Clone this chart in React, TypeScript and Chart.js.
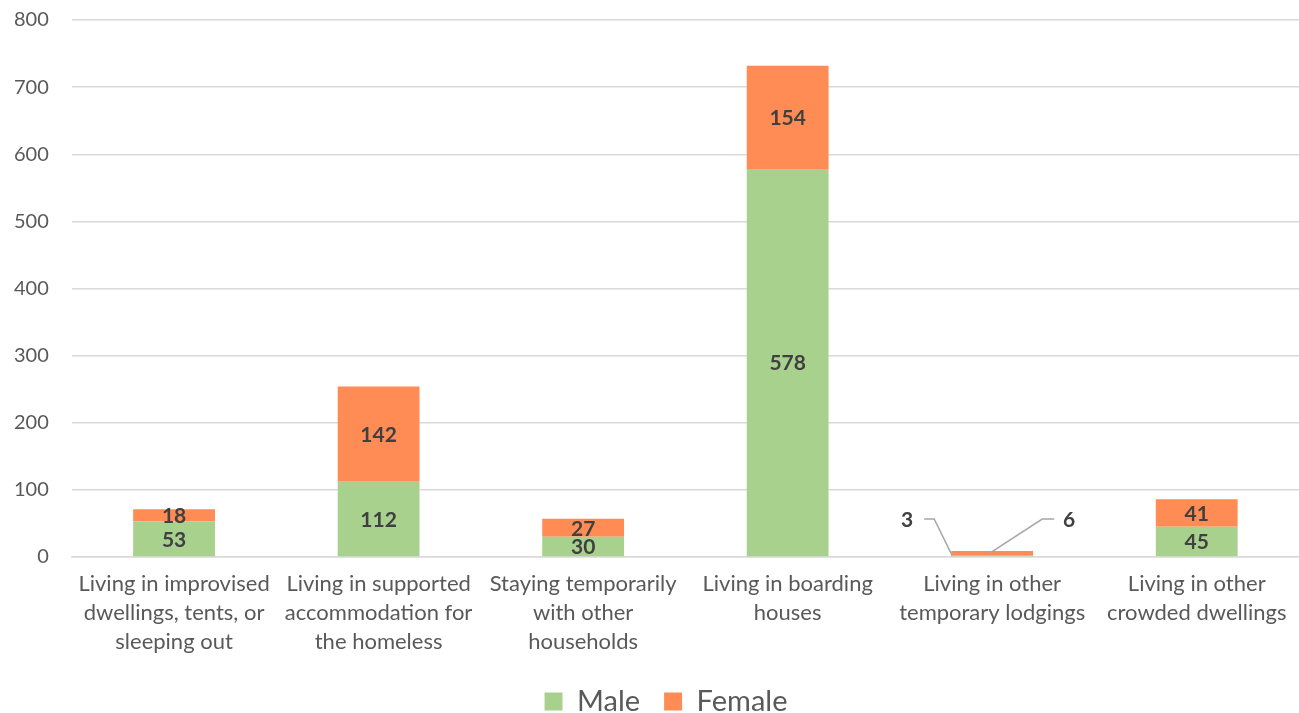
import React, { useEffect, useRef } from "react";
import { Chart, registerables } from "chart.js";

Chart.register(...registerables);

const categories: string[][] = [
  ["Living in improvised", "dwellings, tents, or", "sleeping out"],
  ["Living in supported", "accommodation for", "the homeless"],
  ["Staying temporarily", "with other", "households"],
  ["Living in boarding", "houses"],
  ["Living in other", "temporary lodgings"],
  ["Living in other", "crowded dwellings"],
];
const maleValues = [53, 112, 30, 578, 3, 45];
const femaleValues = [18, 142, 27, 154, 6, 41];
const calloutIndices = [4];

const valueLabelPlugin = {
  id: "valueLabels",
  afterDatasetsDraw(chart: any) {
    const ctx = chart.ctx;
    ctx.save();
    ctx.font = "bold 21px Lato";
    ctx.fillStyle = "#404040";
    ctx.textAlign = "center";
    ctx.textBaseline = "middle";
    chart.data.datasets.forEach((ds: any, di: number) => {
      const meta = chart.getDatasetMeta(di);
      meta.data.forEach((el: any, i: number) => {
        const v = ds.data[i];
        const midY = (el.y + el.base) / 2;
        if (calloutIndices.includes(i)) {
          const base = chart.scales.y.getPixelForValue(0);
          const ly = base - 38;
          ctx.strokeStyle = "#a6a6a6";
          ctx.lineWidth = 1.5;
          ctx.beginPath();
          if (di === 0) {
            ctx.moveTo(el.x - 68, ly);
            ctx.lineTo(el.x - 58, ly);
            ctx.lineTo(el.x - 40, midY);
            ctx.stroke();
            ctx.fillText(String(v), el.x - 85, ly + 1);
          } else {
            ctx.moveTo(el.x + 62, ly);
            ctx.lineTo(el.x + 50, ly);
            ctx.lineTo(el.x - 2, midY);
            ctx.stroke();
            ctx.fillText(String(v), el.x + 77, ly + 1);
          }
        } else {
          ctx.fillText(String(v), el.x, midY + 1);
        }
      });
    });
    ctx.restore();
  },
};

const legendShiftPlugin = {
  id: "legendShift",
  afterLayout(chart: any) {
    if (chart.legend) {
      chart.legend.left += 21;
      chart.legend.right += 21;
    }
  },
};

export default function App() {
  const ref = useRef<HTMLCanvasElement>(null);
  useEffect(() => {
    const chart = new Chart(ref.current!, {
      type: "bar",
      data: {
        labels: categories,
        datasets: [
          {
            label: "Male",
            data: maleValues,
            backgroundColor: "#A9D18E",
            barPercentage: 0.8,
            categoryPercentage: 0.5,
          },
          {
            label: "Female",
            data: femaleValues,
            backgroundColor: "#FF8B55",
            barPercentage: 0.8,
            categoryPercentage: 0.5,
          },
        ],
      },
      options: {
        animation: false,
        responsive: true,
        maintainAspectRatio: false,
        layout: { padding: { top: 6, right: 0, left: 1, bottom: 0 } },
        scales: {
          x: {
            stacked: true,
            grid: { display: false },
            border: { color: "#d9d9d9", width: 1.5 },
            ticks: {
              color: "#595959",
              font: { family: "Lato", size: 22, lineHeight: 1.32 },
              maxRotation: 0,
              autoSkip: false,
              padding: 4,
            },
            afterFit(scale: any) {
              scale.height = 106;
            },
          },
          y: {
            stacked: true,
            min: 0,
            max: 800,
            ticks: {
              stepSize: 100,
              color: "#595959",
              font: { family: "Lato", size: 20 },
              padding: 23,
            },
            grid: { color: "#d9d9d9", lineWidth: 1.5, drawTicks: false },
            border: { display: false },
          },
        },
        plugins: {
          legend: {
            position: "bottom",
            labels: {
              color: "#595959",
              font: { family: "Lato", size: 29 },
              boxWidth: 18,
              boxHeight: 18,
              padding: 24,
            },
          },
          tooltip: { enabled: false },
        },
      },
      plugins: [valueLabelPlugin, legendShiftPlugin],
    });
    return () => chart.destroy();
  }, []);
  return (
    <div
      style={{
        position: "fixed",
        left: 0,
        top: 0,
        width: 1299,
        height: 713,
        overflow: "hidden",
        background: "#fff",
      }}
    >
      <div style={{ position: "relative", left: -10, top: -15, width: 1309, height: 741 }}>
        <canvas ref={ref} />
      </div>
    </div>
  );
}
